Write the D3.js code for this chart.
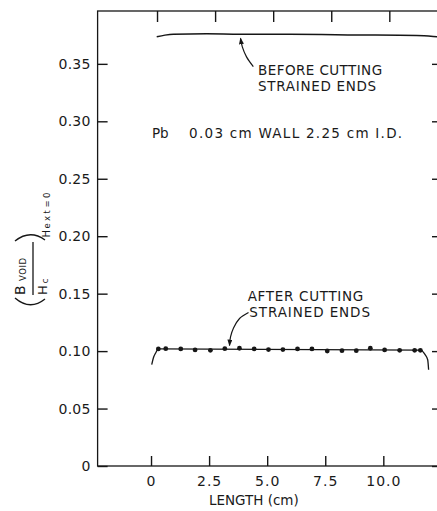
<!DOCTYPE html>
<html>
<head>
<meta charset="utf-8">
<script src="https://cdn.jsdelivr.net/npm/d3@7"></script>
<style>
  html, body { margin: 0; padding: 0; background: #fff; }
  svg { display: block; }
  text { font-family: "DejaVu Sans", sans-serif; fill: #1a1a1a; }
</style>
</head>
<body>
<svg id="chart" width="437" height="511"></svg>
<script>
// B_void / Hc measured along the Pb cylinder after the strained ends were cut off
const afterLength = [0.315, 0.634, 1.280, 1.897, 2.556, 3.177, 3.806, 4.440, 5.056, 5.677,
                     6.306, 6.927, 7.586, 8.220, 8.836, 9.440, 10.056, 10.703, 11.349, 11.595];
const afterValue  = [0.1019, 0.1021, 0.1019, 0.1010, 0.1007, 0.1021, 0.1025, 0.1019, 0.1013, 0.1013,
                     0.1019, 0.1019, 0.1001, 0.1004, 0.1004, 0.1025, 0.1010, 0.1007, 0.1007, 0.1007];

// Faired curve through those points, with the fall-off at each end of the tube
const afterCurveLength = [0.03, 0.10, 0.20, 0.315, 11.595, 11.80, 11.91, 11.95];
const afterCurveValue  = [0.0882, 0.0940, 0.0984, 0.1019, 0.1009, 0.0969, 0.0925, 0.0838];

// Curve before cutting the strained ends
const beforeCurveLength = [0.245, 0.60, 0.96, 2.40, 3.83, 5.98, 8.85, 11.44, 12.15, 12.44];
const beforeCurveValue  = [0.3735, 0.3750, 0.3758, 0.3761, 0.3758, 0.3758, 0.3752, 0.3746, 0.3738, 0.3733];

// Axis ticks
const xTicks = [0, 2.5, 5, 7.5, 10];
const xTickLabels = ["0", "2.5", "5.0", "7.5", "10.0"];
const yTicks = [0, 0.05, 0.10, 0.15, 0.20, 0.25, 0.30, 0.35];
const yTickLabels = ["0", "0.05", "0.10", "0.15", "0.20", "0.25", "0.30", "0.35"];

// Leader arrows for the call-outs (in data units)
const beforeArrowLength = [4.404, 4.111, 3.930, 3.853];
const beforeArrowValue  = [0.3476, 0.3561, 0.3648, 0.3722];
const afterArrowLength  = [4.197, 3.810, 3.551, 3.422, 3.379];
const afterArrowValue   = [0.1336, 0.1284, 0.1201, 0.1123, 0.1049];

const svg = d3.select("#chart");
const plotLeft = 97.6, plotRight = 440, plotTop = 11, plotBottom = 466;

const x = d3.scaleLinear().domain([-2.3, 12.44]).range([plotLeft, plotRight]);
const y = d3.scaleLinear().domain([0, 0.396]).range([plotBottom, plotTop]);

const ink = "#161616";

// frame
svg.append("rect")
  .attr("x", plotLeft).attr("y", plotTop)
  .attr("width", plotRight - plotLeft).attr("height", plotBottom - plotTop)
  .attr("fill", "none").attr("stroke", ink).attr("stroke-width", 1.3);

function styleAxis(g) {
  g.select(".domain").remove();
  g.selectAll(".tick line").attr("stroke", ink).attr("stroke-width", 1.4);
  g.selectAll(".tick text").attr("fill", ink)
    .style("font-family", '"DejaVu Sans", sans-serif');
}

// bottom axis
const xAxis = d3.axisBottom(x).tickValues(xTicks)
  .tickFormat((d, i) => xTickLabels[i]).tickSize(-10).tickPadding(10.5);
svg.append("g").attr("transform", `translate(0,${plotBottom})`).call(xAxis).call(styleAxis)
  .selectAll(".tick text").style("font-size", "14px").style("letter-spacing", "1px");

// top axis (ticks only)
svg.append("g").attr("transform", `translate(6,${plotTop})`)
  .call(d3.axisTop(x).tickValues(xTicks).tickFormat("").tickSize(-11)).call(styleAxis);

// left axis
const yAxis = d3.axisLeft(y).tickValues(yTicks)
  .tickFormat((d, i) => yTickLabels[i]).tickSize(-10).tickPadding(7);
svg.append("g").attr("transform", `translate(${plotLeft},0)`).call(yAxis).call(styleAxis)
  .selectAll(".tick text").style("font-size", "14px").style("letter-spacing", "0.2px");

// right axis (ticks only)
svg.append("g").attr("transform", `translate(${plotRight},0)`)
  .call(d3.axisRight(y).tickValues(yTicks).tickFormat("").tickSize(-8)).call(styleAxis);

// curves
const line = d3.line().x(d => x(d[0])).y(d => y(d[1])).curve(d3.curveMonotoneX);

svg.append("path")
  .datum(beforeCurveLength.map((v, i) => [v, beforeCurveValue[i]]))
  .attr("d", line).attr("fill", "none").attr("stroke", ink).attr("stroke-width", 1.5);

svg.append("path")
  .datum(afterCurveLength.map((v, i) => [v, afterCurveValue[i]]))
  .attr("d", line).attr("fill", "none").attr("stroke", ink).attr("stroke-width", 1.3);

// measured points
svg.append("g").selectAll("circle")
  .data(afterLength.map((v, i) => [v, afterValue[i]]))
  .join("circle")
  .attr("cx", d => x(d[0])).attr("cy", d => y(d[1])).attr("r", 2.4).attr("fill", ink);

// arrowheads
svg.append("defs").append("marker")
  .attr("id", "head").attr("viewBox", "0 0 8 6")
  .attr("refX", 7).attr("refY", 3)
  .attr("markerWidth", 7).attr("markerHeight", 5)
  .attr("markerUnits", "userSpaceOnUse").attr("orient", "auto")
  .append("path").attr("d", "M0,0 L8,3 L0,6 Z").attr("fill", ink);

const leader = d3.line().x(d => x(d[0])).y(d => y(d[1])).curve(d3.curveCatmullRom);
svg.append("path")
  .datum(beforeArrowLength.map((v, i) => [v, beforeArrowValue[i]]))
  .attr("d", leader).attr("fill", "none").attr("stroke", ink).attr("stroke-width", 1.2)
  .attr("marker-end", "url(#head)");
svg.append("path")
  .datum(afterArrowLength.map((v, i) => [v, afterArrowValue[i]]))
  .attr("d", leader).attr("fill", "none").attr("stroke", ink).attr("stroke-width", 1.2)
  .attr("marker-end", "url(#head)");

// text labels
function label(text, xv, yv, width, size) {
  const t = svg.append("text")
    .attr("x", x(xv)).attr("y", y(yv))
    .style("font-size", size + "px")
    .text(text);
  if (width) t.attr("textLength", width).attr("lengthAdjust", "spacing");
  return t;
}
label("BEFORE CUTTING", 4.61, 0.3404, 124, 13.5);
label("STRAINED ENDS", 4.61, 0.3268, 118, 13.5);
label("AFTER CUTTING", 4.16, 0.1439, 115.6, 13.5);
label("STRAINED ENDS", 4.23, 0.1300, 120.7, 13.5);
label("Pb", 0.04, 0.2856, null, 13.5);
label("0.03 cm WALL 2.25 cm I.D.", 1.64, 0.2856, 213, 13.5);

// x-axis title
svg.append("text")
  .attr("x", (209 + 298.7) / 2).attr("y", 505)
  .attr("text-anchor", "middle")
  .attr("textLength", 89.7).attr("lengthAdjust", "spacing")
  .style("font-size", "13.5px")
  .text("LENGTH (cm)");

// y-axis title: (B_VOID / Hc) with subscript H_ext=0, drawn rotated
const yl = svg.append("g").attr("transform", "rotate(-90)");
yl.append("text").attr("x", -295).attr("y", 25).style("font-size", "14px").text("B");
yl.append("text").attr("x", -281).attr("y", 26).style("font-size", "8.5px")
  .attr("textLength", 23).attr("lengthAdjust", "spacing").text("VOID");
yl.append("text").attr("x", -295).attr("y", 47).style("font-size", "13px").text("H");
yl.append("text").attr("x", -283.5).attr("y", 48).style("font-size", "9px").text("c");
yl.append("text").attr("x", -237.5).attr("y", 50).style("font-size", "10px").text("H");
yl.append("text").attr("x", -228.5).attr("y", 50).style("font-size", "8.5px")
  .attr("textLength", 36).attr("lengthAdjust", "spacing").text("ext=0");
// fraction bar and brackets
svg.append("line").attr("x1", 33).attr("x2", 33).attr("y1", 242).attr("y2", 295)
  .attr("stroke", ink).attr("stroke-width", 1.3);
svg.append("path").attr("d", "M15,241 Q30,229 45,240")
  .attr("fill", "none").attr("stroke", ink).attr("stroke-width", 1.4);
svg.append("path").attr("d", "M15,298 Q30,311 45,299")
  .attr("fill", "none").attr("stroke", ink).attr("stroke-width", 1.4);
</script>
</body>
</html>
